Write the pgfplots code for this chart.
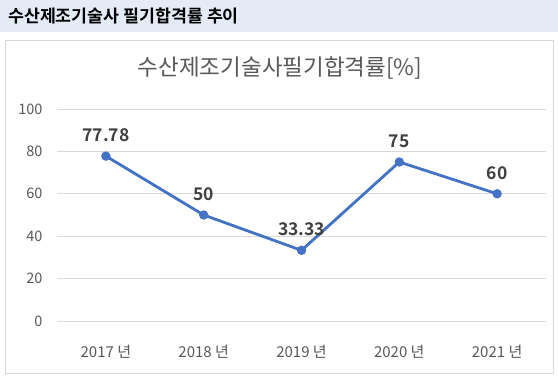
\documentclass[border=0pt]{standalone}
\usepackage{fontspec}
\setmainfont{Noto Sans CJK KR}
\newfontfamily\krbold{Noto Sans CJK KR Bold}
\usepackage{pgfplots}
\pgfplotsset{compat=1.18}
\definecolor{hdrbg}{HTML}{E4EAF6}
\definecolor{boxline}{HTML}{D9D9D9}
\definecolor{gridc}{HTML}{D9D9D9}
\definecolor{txtgray}{HTML}{595959}
\definecolor{lblgray}{HTML}{404040}
\definecolor{lineblue}{HTML}{4472C4}
\begin{document}
\begin{tikzpicture}[x=1bp,y=1bp]
\useasboundingbox (0,0) rectangle (558,382);
\fill[white] (0,0) rectangle (558,382);
\fill[hdrbg] (0,350) rectangle (558,382);
\node[anchor=west,inner sep=0pt,font=\fontsize{17.3bp}{19bp}\krbold] at (8,366) {수산제조기술사 필기합격률 추이};
\draw[boxline,line width=1bp] (5,9) rectangle (553,342);
\node[anchor=center,inner sep=0pt,text=txtgray,font=\fontsize{22.5bp}{24bp}\selectfont] at (280,314) {수산제조기술사필기합격률[\%]};
\begin{axis}[
  at={(57bp,61bp)}, anchor=south west,
  scale only axis, width=489bp, height=212bp,
  xmin=-0.5, xmax=4.5, ymin=0, ymax=100,
  xtick={0,1,2,3,4},
  xticklabels={2017 년,2018 년,2019 년,2020 년,2021 년},
  ytick={0,20,40,60,80,100},
  ymajorgrids, grid style={gridc, line width=0.75bp},
  axis line style={draw=none},
  major tick length=0pt,
  tick label style={text=txtgray},
  /pgf/number format/assume math mode=true,
  xticklabel style={anchor=center, yshift=-31bp, font=\fontsize{15bp}{17bp}\selectfont},
  yticklabel style={anchor=east, xshift=-11bp, font=\fontsize{14.5bp}{16bp}\selectfont},
  clip=false,
  nodes near coords,
  point meta=explicit symbolic,
  every node near coord/.style={font=\fontsize{17.5bp}{19bp}\krbold, text=lblgray, anchor=center, yshift=21bp},
]
\addplot[lineblue, line width=2.8bp, mark=*, mark size=3.2bp, mark options={fill=lineblue, draw=lineblue}]
 coordinates {(0,77.78)[77.78] (1,50)[50] (2,33.33)[33.33] (3,75)[75] (4,60)[60]};
\end{axis}
\end{tikzpicture}
\end{document}
